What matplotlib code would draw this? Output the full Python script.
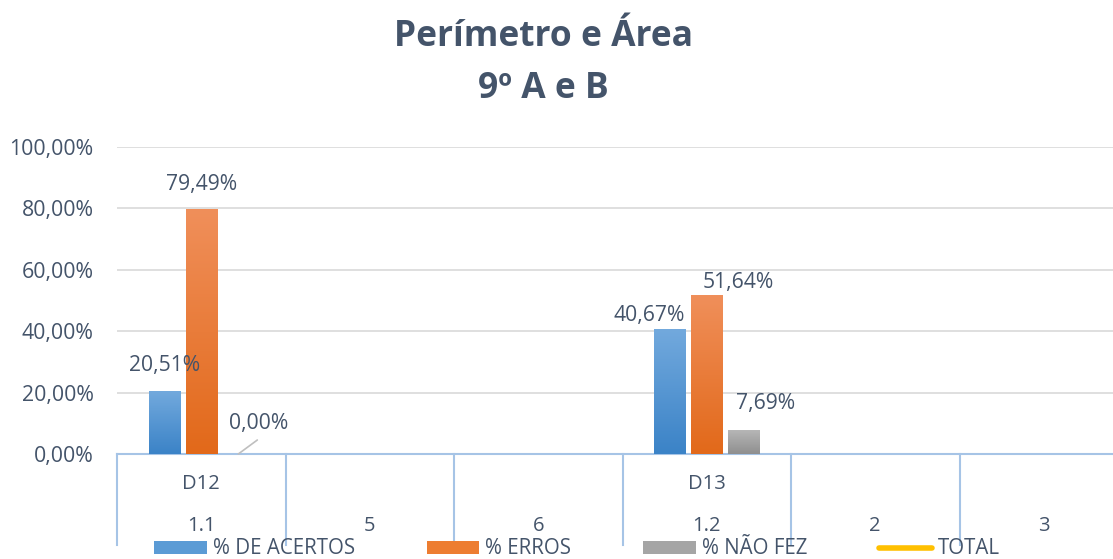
import numpy as np
import matplotlib
matplotlib.use("Agg")
import matplotlib.pyplot as plt
from matplotlib.colors import LinearSegmentedColormap
from matplotlib.patches import Patch
from matplotlib.lines import Line2D

# ---- dados ----
grupos = ["D12", "", "", "D13", "", ""]
itens = ["1.1", "5", "6", "1.2", "2", "3"]
acertos = [0.2051, None, None, 0.4067, None, None]
erros = [0.7949, None, None, 0.5164, None, None]
nao_fez = [0.0, None, None, 0.0769, None, None]
series_nomes = ["% DE ACERTOS", "% ERROS", "% NÃO FEZ", "TOTAL"]

plt.rcParams["font.family"] = ["Open Sans", "DejaVu Sans"]
TXT = "#44546A"

fig = plt.figure(figsize=(11.13, 5.59), dpi=100)
ax = fig.add_axes([117 / 1113, 105 / 559, 1011 / 1113, 307 / 559])

# gradientes (topo -> base)
grad = {
    "azul": ("#72A9DD", "#3B83C7"),
    "laranja": ("#F08F5A", "#E2691A"),
    "cinza": ("#B6B6B6", "#8F8F8F"),
}

x = np.arange(len(itens))
w = 0.184
off = 0.22


def barras_grad(valores, deslocamento, cores):
    cmap = LinearSegmentedColormap.from_list("g", [cores[1], cores[0]])
    for xi, v in zip(x, valores):
        if v is None or v <= 0:
            continue
        x0 = xi + deslocamento - w / 2
        g = np.linspace(0, 1, 100).reshape(-1, 1)
        ax.imshow(g, cmap=cmap, origin="lower", aspect="auto",
                  extent=[x0, x0 + w, 0, v], zorder=3)


barras_grad(acertos, -off, grad["azul"])
barras_grad(erros, 0, grad["laranja"])
barras_grad(nao_fez, off, grad["cinza"])

ax.set_xlim(-0.5, len(itens) - 0.5)
ax.set_ylim(0, 1)

# ---- eixo y ----
ax.set_yticks(np.arange(0, 1.01, 0.2))
ax.set_yticklabels([f"{v * 100:.2f}%".replace(".", ",") for v in np.arange(0, 1.01, 0.2)])
ax.tick_params(axis="y", length=0, pad=17, labelsize=15.3, labelcolor=TXT)
ax.tick_params(axis="x", length=0, labelbottom=False)
ax.yaxis.grid(True, color="#D9D9D9", lw=1.2)
ax.set_axisbelow(True)
for s in ["top", "right", "left"]:
    ax.spines[s].set_visible(False)
ax.spines["bottom"].set_color("#A6C4E6")
ax.spines["bottom"].set_linewidth(1.5)

# ---- eixo x em dois níveis ----
trans = ax.get_xaxis_transform()
for b in np.arange(-0.5, len(itens), 1.0):
    ax.plot([b, b], [0, -0.296], transform=trans, color="#A6C4E6", lw=1.5,
            clip_on=False, zorder=2)
for xi, g, it in zip(x, grupos, itens):
    if g:
        ax.text(xi, -0.097, g, transform=trans, ha="center", va="center",
                fontsize=14.5, color=TXT)
    ax.text(xi, -0.236, it, transform=trans, ha="center", va="center",
            fontsize=14.5, color=TXT)

# ---- rótulos de dados ----
def rotulo(xi, v, dx, dy):
    txt = f"{v * 100:.2f}%".replace(".", ",")
    ax.annotate(txt, (xi, v), xytext=(dx * 0.72, dy * 0.72),
                textcoords="offset points", ha="center", va="center",
                fontsize=15.2, color=TXT, zorder=5)


rotulo(0 - off, acertos[0], 0, 26)
rotulo(0, erros[0], 0, 25)
rotulo(0 + off, nao_fez[0], 20, 31)
ax.annotate("", xy=(0 + off, 0), xytext=(19 * 0.72, 14 * 0.72),
            textcoords="offset points",
            arrowprops=dict(arrowstyle="-", color="#BFBFBF", lw=1.2,
                            shrinkA=0, shrinkB=0))
rotulo(3 - off, acertos[3], -20, 14)
rotulo(3, erros[3], 31, 13)
rotulo(3 + off, nao_fez[3], 22, 27)

# ---- título ----
fig.text(543 / 1113, 1 - 37 / 559, "Perímetro e Área", ha="center", va="center",
         fontsize=25.5, fontweight="bold", color=TXT)
fig.text(543 / 1113, 1 - 89 / 559, "9º A e B", ha="center", va="center",
         fontsize=25.5, fontweight="bold", color=TXT)

# ---- legenda ----
handles = [
    Patch(facecolor="#5B9BD5"),
    Patch(facecolor="#ED7D31"),
    Patch(facecolor="#A5A5A5"),
    Line2D([0], [0], color="#FFC000", lw=4, solid_capstyle="round"),
]
fig.legend(handles, series_nomes, loc="center", ncol=4,
           bbox_to_anchor=(577 / 1113, 1 - 549 / 559), frameon=False,
           fontsize=14.8, labelcolor=TXT, handlelength=2.55, handleheight=0.6,
           handletextpad=0.3, columnspacing=3.5, borderpad=0, borderaxespad=0)

fig.savefig("out.png", dpi=100)
